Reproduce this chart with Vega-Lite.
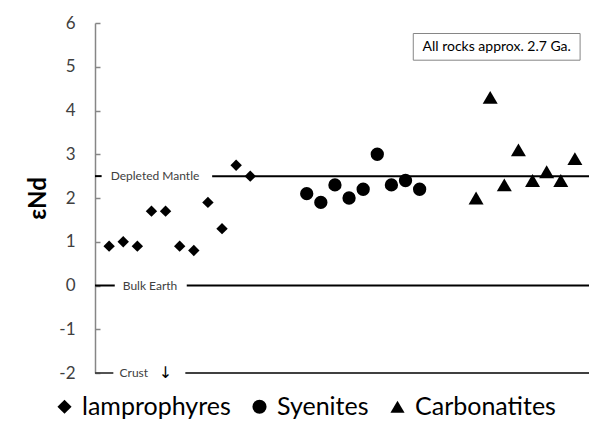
{
  "$schema": "https://vega.github.io/schema/vega-lite/v6.json",
  "width": 494,
  "height": 350,
  "autosize": {"type": "none"},
  "padding": {"left": 95, "top": 23, "right": 5, "bottom": 57},
  "background": "white",
  "config": {"view": {"stroke": null}, "font": "Lato"},
  "datasets": {
    "pts": [
      {"x": 1, "y": 0.9, "rock": "lamprophyres"},
      {"x": 2, "y": 1.0, "rock": "lamprophyres"},
      {"x": 3, "y": 0.9, "rock": "lamprophyres"},
      {"x": 4, "y": 1.7, "rock": "lamprophyres"},
      {"x": 5, "y": 1.7, "rock": "lamprophyres"},
      {"x": 6, "y": 0.9, "rock": "lamprophyres"},
      {"x": 7, "y": 0.8, "rock": "lamprophyres"},
      {"x": 8, "y": 1.9, "rock": "lamprophyres"},
      {"x": 9, "y": 1.3, "rock": "lamprophyres"},
      {"x": 10, "y": 2.75, "rock": "lamprophyres"},
      {"x": 11, "y": 2.5, "rock": "lamprophyres"},
      {"x": 15, "y": 2.1, "rock": "Syenites"},
      {"x": 16, "y": 1.9, "rock": "Syenites"},
      {"x": 17, "y": 2.3, "rock": "Syenites"},
      {"x": 18, "y": 2.0, "rock": "Syenites"},
      {"x": 19, "y": 2.2, "rock": "Syenites"},
      {"x": 20, "y": 3.0, "rock": "Syenites"},
      {"x": 21, "y": 2.3, "rock": "Syenites"},
      {"x": 22, "y": 2.4, "rock": "Syenites"},
      {"x": 23, "y": 2.2, "rock": "Syenites"},
      {"x": 27, "y": 2.0, "rock": "Carbonatites"},
      {"x": 28, "y": 4.3, "rock": "Carbonatites"},
      {"x": 29, "y": 2.3, "rock": "Carbonatites"},
      {"x": 30, "y": 3.1, "rock": "Carbonatites"},
      {"x": 31, "y": 2.4, "rock": "Carbonatites"},
      {"x": 32, "y": 2.6, "rock": "Carbonatites"},
      {"x": 33, "y": 2.4, "rock": "Carbonatites"},
      {"x": 34, "y": 2.9, "rock": "Carbonatites"}
    ],
    "refs": [
      {"x": 0, "x2": 0.47, "y": 2.5},
      {"x": 8.3, "x2": 35, "y": 2.5},
      {"x": 0, "x2": 1.4, "y": 0},
      {"x": 6.5, "x2": 35, "y": 0}
    ],
    "crust": [
      {"x": 0, "x2": 1.3, "y": -2},
      {"x": 6.4, "x2": 35, "y": -2}
    ],
    "labels": [
      {"x": 4.25, "y": 2.5, "t": "Depleted Mantle"},
      {"x": 3.9, "y": 0, "t": "Bulk Earth"},
      {"x": 2.75, "y": -2, "t": "Crust"}
    ],
    "note": [
      {"x": 22.55, "x2": 34.37, "y": 5.15, "y2": 5.76, "xm": 28.46, "ym": 5.46, "t": "All rocks approx. 2.7 Ga."}
    ],
    "arrow": [
      {"x": 5.0, "y": -2, "t": "↓"}
    ]
  },
  "layer": [
    {
      "data": {"name": "refs"},
      "mark": {"type": "rule", "color": "black", "strokeWidth": 2},
      "encoding": {
        "x": {"field": "x", "type": "quantitative", "scale": {"domain": [0, 35], "nice": false, "zero": false}, "axis": null},
        "x2": {"field": "x2"},
        "y": {
          "field": "y", "type": "quantitative",
          "scale": {"domain": [-2, 6], "nice": false, "zero": false},
          "axis": {
            "values": [-2, -1, 0, 1, 2, 3, 4, 5, 6],
            "labelExpr": "'' + datum.value",
            "title": "εNd",
            "titleFontSize": 24,
            "titleFontWeight": "bold",
            "titleColor": "black",
            "titleFont": "Lato",
            "titlePadding": 8,
            "labelFont": "Lato",
            "labelFontSize": 17,
            "labelColor": "#404040",
            "labelPadding": 25,
            "tickSize": -5,
            "tickColor": "#868686",
            "tickWidth": 1.5,
            "domainColor": "#868686",
            "domainWidth": 1.5,
            "grid": false
          }
        }
      }
    },
    {
      "data": {"name": "crust"},
      "mark": {"type": "rule", "color": "#404040", "strokeWidth": 1.8},
      "encoding": {
        "x": {"field": "x", "type": "quantitative"},
        "x2": {"field": "x2"},
        "y": {"field": "y", "type": "quantitative"}
      }
    },
    {
      "mark": {"type": "rule", "color": "#868686", "strokeWidth": 1.5},
      "encoding": {
        "x": {"datum": 0, "type": "quantitative"},
        "x2": {"datum": 35},
        "y": {"datum": 6, "type": "quantitative"}
      }
    },
    {
      "mark": {"type": "rule", "color": "#868686", "strokeWidth": 1.5},
      "encoding": {
        "x": {"datum": 35, "type": "quantitative"},
        "y": {"datum": -2, "type": "quantitative"},
        "y2": {"datum": 6}
      }
    },
    {
      "data": {"name": "labels"},
      "mark": {"type": "text", "font": "Lato", "fontSize": 12, "color": "#404040", "align": "center", "baseline": "middle"},
      "encoding": {
        "x": {"field": "x", "type": "quantitative"},
        "y": {"field": "y", "type": "quantitative"},
        "text": {"field": "t"}
      }
    },
    {
      "data": {"name": "arrow"},
      "mark": {"type": "text", "font": "DejaVu Sans", "fontSize": 16, "color": "black", "align": "center", "baseline": "middle"},
      "encoding": {
        "x": {"field": "x", "type": "quantitative"},
        "y": {"field": "y", "type": "quantitative"},
        "text": {"field": "t"}
      }
    },
    {
      "data": {"name": "note"},
      "mark": {"type": "rect", "fill": "white", "stroke": "#868686", "strokeWidth": 1},
      "encoding": {
        "x": {"field": "x", "type": "quantitative"},
        "x2": {"field": "x2"},
        "y": {"field": "y", "type": "quantitative"},
        "y2": {"field": "y2"}
      }
    },
    {
      "data": {"name": "note"},
      "mark": {"type": "text", "font": "Lato", "fontSize": 14, "color": "black", "align": "center", "baseline": "middle"},
      "encoding": {
        "x": {"field": "xm", "type": "quantitative"},
        "y": {"field": "ym", "type": "quantitative"},
        "text": {"field": "t"}
      }
    },
    {
      "data": {"name": "pts"},
      "transform": [{"filter": "datum.rock === 'lamprophyres'"}],
      "mark": {"type": "point", "filled": true, "color": "black", "opacity": 1, "size": 130},
      "encoding": {
        "x": {"field": "x", "type": "quantitative"},
        "y": {"field": "y", "type": "quantitative"},
        "shape": {
          "field": "rock", "type": "nominal",
          "scale": {"domain": ["lamprophyres", "Syenites", "Carbonatites"], "range": ["diamond", "circle", "triangle-up"]},
          "legend": {
            "orient": "none", "legendX": -43, "legendY": 371,
            "direction": "horizontal", "title": null,
            "labelFont": "Lato", "labelFontSize": 25, "labelColor": "black",
            "symbolSize": 200, "symbolFillColor": "black", "symbolStrokeColor": "black", "symbolStrokeWidth": 0,
            "columnPadding": 16, "labelOffset": 5, "labelLimit": 300
          }
        }
      }
    },
    {
      "data": {"name": "pts"},
      "transform": [{"filter": "datum.rock === 'Syenites'"}],
      "mark": {"type": "point", "filled": true, "color": "black", "opacity": 1, "size": 177},
      "encoding": {
        "x": {"field": "x", "type": "quantitative"},
        "y": {"field": "y", "type": "quantitative"},
        "shape": {"field": "rock", "type": "nominal"}
      }
    },
    {
      "data": {"name": "pts"},
      "transform": [{"filter": "datum.rock === 'Carbonatites'"}],
      "mark": {"type": "point", "filled": true, "color": "black", "opacity": 1, "size": 225},
      "encoding": {
        "x": {"field": "x", "type": "quantitative"},
        "y": {"field": "y", "type": "quantitative"},
        "shape": {"field": "rock", "type": "nominal"}
      }
    }
  ]
}
